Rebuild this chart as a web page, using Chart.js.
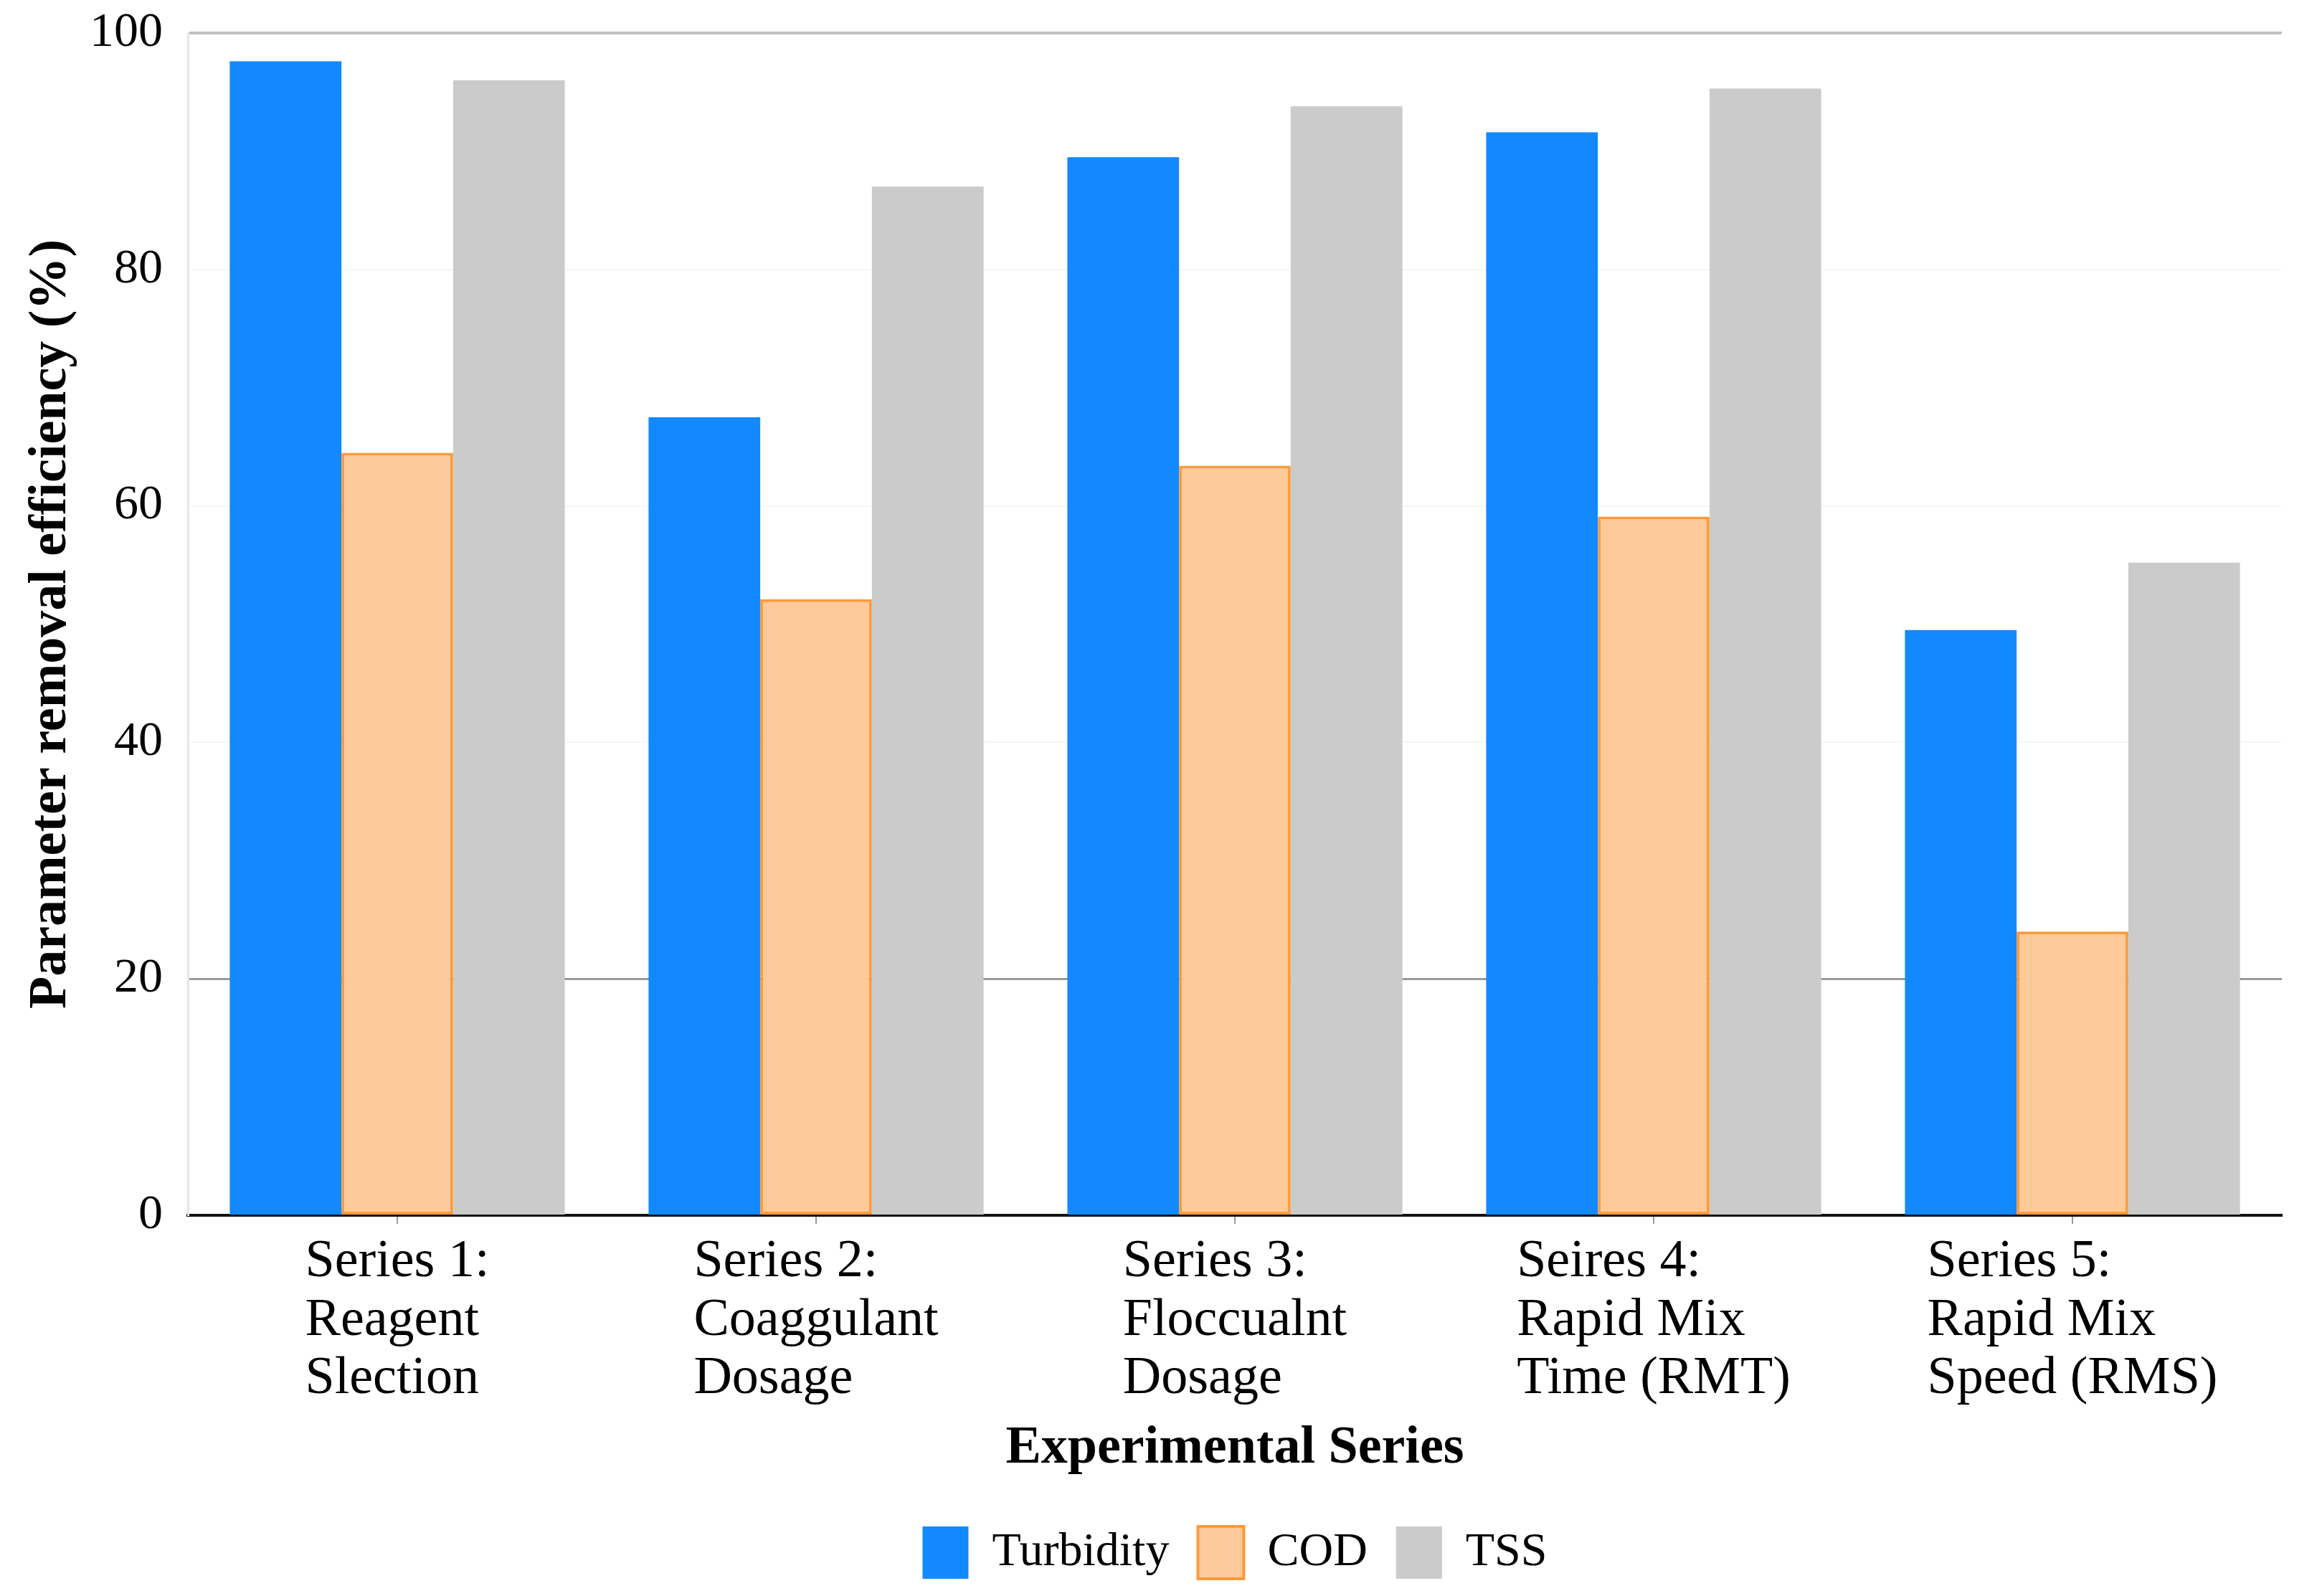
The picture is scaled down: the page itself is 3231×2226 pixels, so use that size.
<!DOCTYPE html>
<html>
<head>
<meta charset="utf-8">
<script src="https://cdn.jsdelivr.net/npm/chart.js@4.4.1/dist/chart.umd.min.js"></script>
<style>
  body { margin: 0; background: #fff; }
</style>
</head>
<body>
<canvas id="chart" width="3231" height="2226"></canvas>
<script>
const categories = [
    ['Series 1:', 'Reagent', 'Slection'],
    ['Series 2:', 'Coaggulant', 'Dosage'],
    ['Series 3:', 'Floccualnt', 'Dosage'],
    ['Seires 4:', 'Rapid Mix', 'Time (RMT)'],
    ['Series 5:', 'Rapid Mix', 'Speed (RMS)'],
];
const turbidity = [97.6, 67.5, 89.5, 91.6, 49.5];
const cod = [64.5, 52.1, 63.4, 59.1, 24.0];
const tss = [96.0, 87.0, 93.8, 95.3, 55.2];
const yTicks = [0, 20, 40, 60, 80, 100];

const serif = '"Liberation Serif", "Times New Roman", serif';
const catFont = { family: serif, size: 74, lineHeight: 1.1 };

// category labels: lines left-aligned, block centred under the group
const leftAlignedTicks = {
    id: 'leftAlignedTicks',
    afterDraw(chart) {
        const scale = chart.scales.x;
        const ctx = chart.ctx;
        const lh = catFont.size * catFont.lineHeight;
        ctx.save();
        ctx.font = catFont.size + 'px ' + serif;
        ctx.fillStyle = '#000';
        ctx.textAlign = 'left';
        ctx.textBaseline = 'middle';
        categories.forEach((lines, i) => {
            const cx = scale.getPixelForTick(i);
            const w = Math.max(...lines.map(l => ctx.measureText(l).width));
            lines.forEach((line, k) => {
                ctx.fillText(line, cx - w / 2, scale.top + 25 + lh * (k + 0.5));
            });
        });
        ctx.restore();
    }
};

// centre the legend under the plot area instead of the whole canvas
const legendUnderPlot = {
    id: 'legendUnderPlot',
    afterLayout(chart) {
        chart.legend.left = chart.chartArea.left;
        chart.legend.right = chart.chartArea.right;
    }
};

new Chart(document.getElementById('chart'), {
    type: 'bar',
    data: {
        labels: categories,
        datasets: [
            {
                label: 'Turbidity',
                data: turbidity,
                backgroundColor: '#1289FE',
                borderWidth: 0,
            },
            {
                label: 'COD',
                data: cod,
                backgroundColor: '#FECA99',
                borderColor: '#FF9A3C',
                borderWidth: 4,
                borderSkipped: false,
            },
            {
                label: 'TSS',
                data: tss,
                backgroundColor: '#CBCBCB',
                borderWidth: 0,
            },
        ],
    },
    options: {
        responsive: false,
        devicePixelRatio: 1,
        animation: false,
        layout: { padding: { top: 46, right: 49, bottom: 14, left: 0 } },
        datasets: { bar: { barPercentage: 1.0, categoryPercentage: 0.8 } },
        plugins: {
            legend: {
                position: 'bottom',
                labels: {
                    font: { family: serif, size: 66 },
                    color: '#000',
                    boxWidth: 64,
                    boxHeight: 73,
                    padding: 40,
                },
            },
            tooltip: { enabled: false },
        },
        scales: {
            x: {
                afterFit(scale) { scale.height = 394; },
                grid: {
                    drawOnChartArea: false,
                    offset: false,
                    tickLength: 12,
                    color: '#9a9a9a',
                    lineWidth: 2,
                },
                border: { color: '#111', width: 4 },
                ticks: { font: catFont, color: 'transparent', padding: 13, maxRotation: 0 },
                title: {
                    display: true,
                    text: 'Experimental Series',
                    font: { family: serif, size: 74, weight: 'bold' },
                    color: '#000',
                    padding: { top: 0, bottom: 24 },
                },
            },
            y: {
                min: 0,
                max: 100,
                afterFit(scale) { scale.width = 262; },
                afterBuildTicks(scale) { scale.ticks = yTicks.map(v => ({ value: v })); },
                grid: {
                    drawTicks: false,
                    color: c => c.tick.value === 100 ? '#c0c0c0' : c.tick.value === 20 ? '#9a9a9a' : c.tick.value === 0 ? 'transparent' : '#f6f6f6',
                    lineWidth: c => c.tick.value === 100 ? 4 : c.tick.value === 20 ? 3 : 2,
                },
                border: { color: '#e6e6e6', width: 3 },
                // small lineHeight keeps the top label from pushing the plot down
                ticks: { font: { family: serif, size: 68, lineHeight: 0.3 }, color: '#000', padding: 35 },
                title: {
                    display: true,
                    text: 'Parameter removal efficiency (%)',
                    font: { family: serif, size: 74, weight: 'bold' },
                    color: '#000',
                    padding: { top: 27, bottom: 0 },
                },
            },
        },
    },
    plugins: [leftAlignedTicks, legendUnderPlot],
});
</script>
</body>
</html>
